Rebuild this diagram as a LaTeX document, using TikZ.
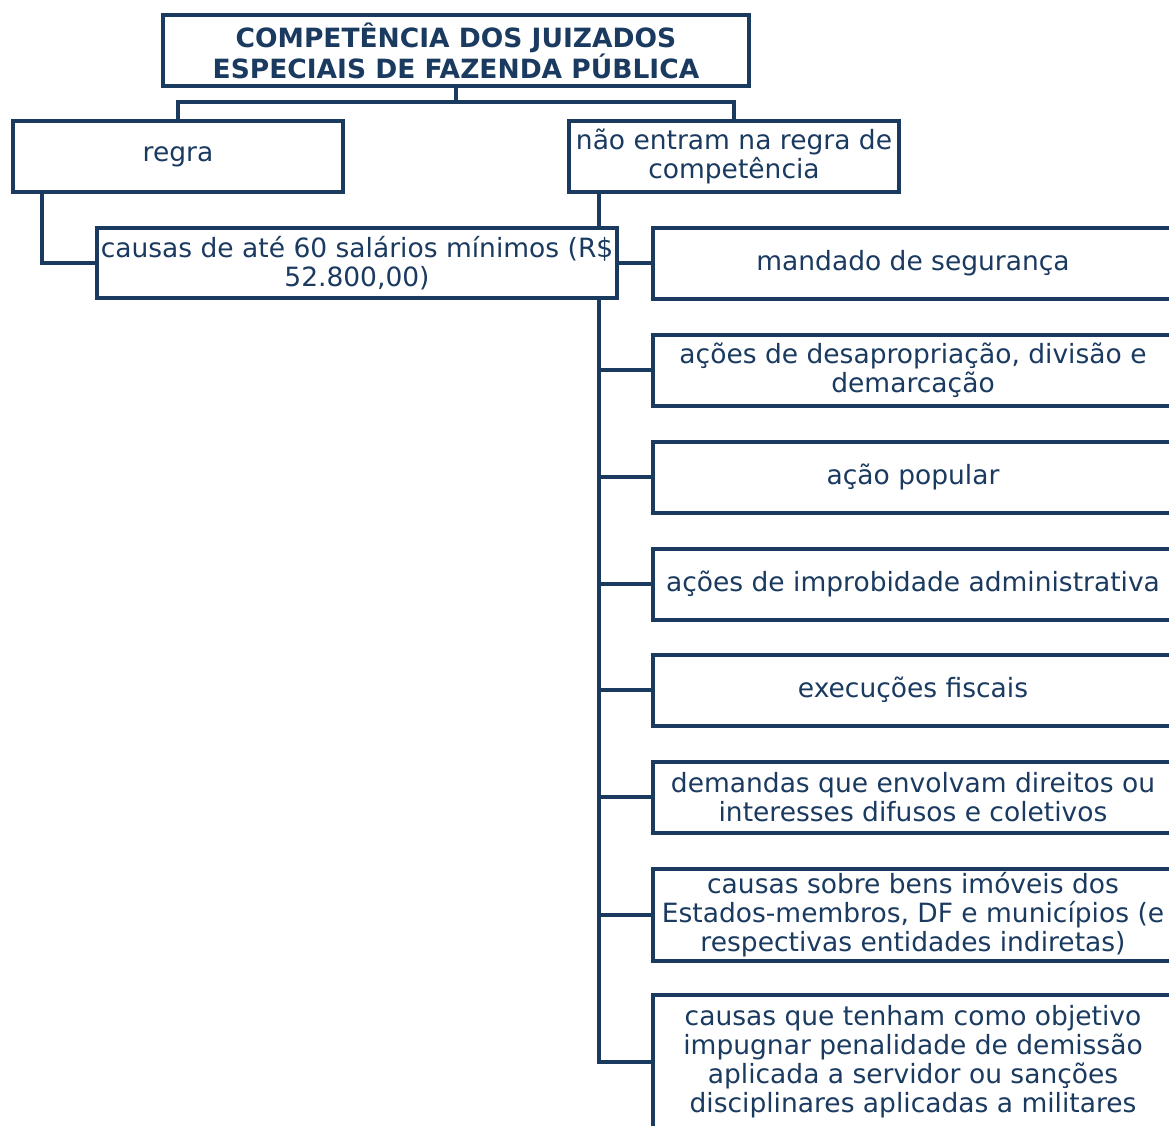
\documentclass[tikz,border=0pt]{standalone}
\usepackage{fontspec}
\setmainfont{DejaVu Sans}
\usepackage{tikz}
\usetikzlibrary{positioning, backgrounds}
\definecolor{fazendablue}{RGB}{26, 58, 96}

\begin{document}
\begin{tikzpicture}[
    x=1pt, y=-1pt,
    every node/.style={font=\fontsize{26.5}{29}\selectfont, text=fazendablue},
    box/.style={rectangle, draw=fazendablue, line width=4pt, fill=white, inner sep=0pt, align=center},
    link/.style={draw=fazendablue, line width=4pt}
]
\clip (0,0) rectangle (1169,1126);

\node[box, minimum width=586, minimum height=71, font=\fontsize{26.5}{29}\selectfont\bfseries] (titulo) at (456, 50.5) {COMPETÊNCIA DOS JUIZADOS\\ESPECIAIS DE FAZENDA PÚBLICA};

\node[box, minimum width=330, minimum height=71] (regra) at (178, 156.5) {regra};
\node[box, minimum width=330, minimum height=71] (excecao) at (734, 156.5) {não entram na regra de\\competência};

\node[box, minimum width=520, minimum height=70] (valor) at (357, 263) {causas de até 60 salários mínimos (R\$\\52.800,00)};

\foreach \name/\ypos/\h/\txt in {
    b1/263/71/{mandado de segurança},
    b2/370/71/{ações de desapropriação, divisão e\\demarcação},
    b3/477/71/{ação popular},
    b4/584/71/{ações de improbidade administrativa},
    b5/690/71/{execuções fiscais},
    b6/797/71/{demandas que envolvam direitos ou\\interesses difusos e coletivos},
    b7/915/92/{causas sobre bens imóveis dos\\Estados-membros, DF e municípios (e\\respectivas entidades indiretas)},
    b8/1062/134/{causas que tenham como objetivo\\impugnar penalidade de demissão\\aplicada a servidor ou sanções\\disciplinares aplicadas a militares}} {
    \node[box, minimum width=520, minimum height=\h] (\name) at (913, \ypos) {\txt};
}

% ligações
\begin{scope}[on background layer]
\coordinate (split) at (456, 102);
\coordinate (tronco) at ([xshift=32pt]excecao.south west);
\draw[link] (titulo.south) -- (split);
\draw[link] (split) -| (regra.north);
\draw[link] (split) -| (excecao.north);
\draw[link] ([xshift=31pt]regra.south west) |- (valor.west);
\draw[link] (tronco) |- (b8.west);
\draw[link] (valor.east) -- (b1.west);
\foreach \name in {b2, b3, b4, b5, b6, b7} {
    \draw[link] (tronco |- \name.west) -- (\name.west);
}
\end{scope}

\end{tikzpicture}
\end{document}
